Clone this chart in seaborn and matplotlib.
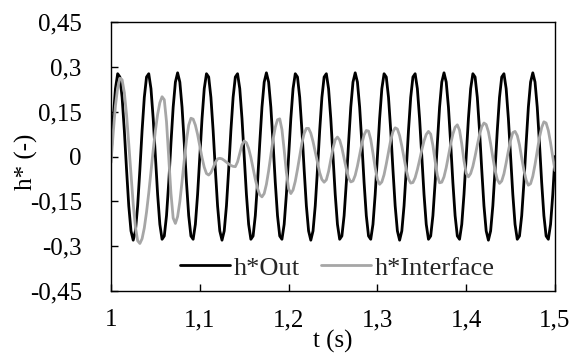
import matplotlib
matplotlib.use("Agg")
import matplotlib.pyplot as plt
import numpy as np
import pandas as pd
import seaborn as sns

# time samples, every 2.5 ms from 1 s to 1.5 s
t = np.round(1.0 + 0.0025 * np.arange(201), 4)

# h*Out
h_out = [
    0.000, 0.127, 0.227, 0.277, 0.266, 0.198, 0.087, -0.044, -0.165, -0.249,
    -0.280, -0.249, -0.165, -0.044, 0.087, 0.198, 0.266, 0.277, 0.227, 0.127,
    0.000, -0.127, -0.227, -0.277, -0.266, -0.198, -0.087, 0.044, 0.165, 0.249,
    0.280, 0.249, 0.165, 0.044, -0.087, -0.198, -0.266, -0.277, -0.227, -0.127,
    0.000, 0.127, 0.227, 0.277, 0.266, 0.198, 0.087, -0.044, -0.165, -0.249,
    -0.280, -0.249, -0.165, -0.044, 0.087, 0.198, 0.266, 0.277, 0.227, 0.127,
    0.000, -0.127, -0.227, -0.277, -0.266, -0.198, -0.087, 0.044, 0.165, 0.249,
    0.280, 0.249, 0.165, 0.044, -0.087, -0.198, -0.266, -0.277, -0.227, -0.127,
    0.000, 0.127, 0.227, 0.277, 0.266, 0.198, 0.087, -0.044, -0.165, -0.249,
    -0.280, -0.249, -0.165, -0.044, 0.087, 0.198, 0.266, 0.277, 0.227, 0.127,
    0.000, -0.127, -0.227, -0.277, -0.266, -0.198, -0.087, 0.044, 0.165, 0.249,
    0.280, 0.249, 0.165, 0.044, -0.087, -0.198, -0.266, -0.277, -0.227, -0.127,
    0.000, 0.127, 0.227, 0.277, 0.266, 0.198, 0.087, -0.044, -0.165, -0.249,
    -0.280, -0.249, -0.165, -0.044, 0.087, 0.198, 0.266, 0.277, 0.227, 0.127,
    0.000, -0.127, -0.227, -0.277, -0.266, -0.198, -0.087, 0.044, 0.165, 0.249,
    0.280, 0.249, 0.165, 0.044, -0.087, -0.198, -0.266, -0.277, -0.227, -0.127,
    0.000, 0.127, 0.227, 0.277, 0.266, 0.198, 0.087, -0.044, -0.165, -0.249,
    -0.280, -0.249, -0.165, -0.044, 0.087, 0.198, 0.266, 0.277, 0.227, 0.127,
    0.000, -0.127, -0.227, -0.277, -0.266, -0.198, -0.087, 0.044, 0.165, 0.249,
    0.280, 0.249, 0.165, 0.044, -0.087, -0.198, -0.266, -0.277, -0.227, -0.127,
    0.000,
]

# h*Interface
h_interface = [
    -0.020, 0.080, 0.170, 0.230, 0.262, 0.257, 0.214, 0.139, 0.042, -0.061,
    -0.159, -0.236, -0.282, -0.291, -0.275, -0.239, -0.186, -0.122, -0.051, 0.021,
    0.087, 0.141, 0.180, 0.200, 0.190, 0.116, -0.001, -0.123, -0.206, -0.224,
    -0.201, -0.151, -0.084, -0.012, 0.055, 0.105, 0.128, 0.125, 0.105, 0.074,
    0.035, -0.004, -0.036, -0.057, -0.062, -0.054, -0.038, -0.020, -0.008, -0.006,
    -0.008, -0.013, -0.019, -0.025, -0.030, -0.033, -0.034, -0.018, 0.011, 0.039,
    0.052, 0.046, 0.027, -0.003, -0.039, -0.076, -0.107, -0.128, -0.135, -0.124,
    -0.093, -0.048, 0.005, 0.057, 0.098, 0.123, 0.126, 0.090, 0.022, -0.053,
    -0.108, -0.124, -0.112, -0.083, -0.043, 0.002, 0.045, 0.077, 0.094, 0.094,
    0.078, 0.050, 0.015, -0.021, -0.054, -0.077, -0.086, -0.078, -0.050, -0.010,
    0.028, 0.056, 0.065, 0.055, 0.029, -0.006, -0.042, -0.071, -0.085, -0.082,
    -0.063, -0.032, 0.006, 0.043, 0.072, 0.087, 0.085, 0.057, 0.011, -0.038,
    -0.077, -0.093, -0.085, -0.061, -0.025, 0.016, 0.055, 0.083, 0.096, 0.092,
    0.070, 0.035, -0.006, -0.045, -0.075, -0.089, -0.087, -0.071, -0.044, -0.012,
    0.022, 0.052, 0.074, 0.084, 0.075, 0.037, -0.015, -0.063, -0.088, -0.086,
    -0.068, -0.037, 0.002, 0.041, 0.075, 0.098, 0.106, 0.088, 0.042, -0.014,
    -0.056, -0.068, -0.057, -0.033, 0.001, 0.038, 0.073, 0.099, 0.112, 0.107,
    0.083, 0.043, -0.003, -0.046, -0.077, -0.090, -0.082, -0.058, -0.021, 0.019,
    0.054, 0.080, 0.084, 0.070, 0.039, -0.005, -0.046, -0.079, -0.096, -0.091,
    -0.066, -0.027, 0.019, 0.064, 0.097, 0.116, 0.112, 0.087, 0.046, -0.002,
    -0.047,
]

x_ticks = [1.0, 1.1, 1.2, 1.3, 1.4, 1.5]
x_tick_labels = ["1", "1,1", "1,2", "1,3", "1,4", "1,5"]
y_ticks = [-0.45, -0.3, -0.15, 0.0, 0.15, 0.3, 0.45]
y_tick_labels = ["-0,45", "-0,3", "-0,15", "0", "0,15", "0,3", "0,45"]

sns.set_theme(style="white")
plt.rcParams["font.family"] = ["Liberation Serif", "DejaVu Serif"]

df = pd.DataFrame({"t": t, "h*Out": h_out, "h*Interface": h_interface})

fig = plt.figure(figsize=(5.74, 3.55), dpi=100)
ax = fig.add_axes([0.1934, 0.1803, 0.7735, 0.7577])

sns.lineplot(data=df, x="t", y="h*Out", color="black", lw=2.0,
             label="h*Out", ax=ax)
sns.lineplot(data=df, x="t", y="h*Interface", color="#a6a6a6", lw=2.0,
             label="h*Interface", ax=ax)

ax.set_xlim(1.0, 1.5)
ax.set_ylim(-0.45, 0.45)
ax.set_xticks(x_ticks)
ax.set_xticklabels(x_tick_labels)
ax.set_yticks(y_ticks)
ax.set_yticklabels(y_tick_labels)

ax.tick_params(axis="both", direction="in", length=5, width=1,
               color="black", labelsize=18, labelcolor="black")
ax.tick_params(axis="x", pad=13, bottom=True, top=False)
ax.tick_params(axis="y", pad=21, left=True, right=False)

for side in ["left", "right", "top", "bottom"]:
    ax.spines[side].set_visible(True)
    ax.spines[side].set_color("black")
    ax.spines[side].set_linewidth(1.0)

ax.set_xlabel("t (s)", fontsize=18, color="black")
ax.set_ylabel("h* (-)", fontsize=18, color="black")
ax.xaxis.set_label_coords(0.5, -0.145)
ax.yaxis.set_label_coords(-0.165, 0.48)

ax.legend(loc="center", bbox_to_anchor=(0.51, 0.0855), ncol=2, frameon=False,
          fontsize=19, handlelength=1.9, handletextpad=0.15,
          columnspacing=0.8, borderpad=0)

fig.savefig("out.png", dpi=100)
